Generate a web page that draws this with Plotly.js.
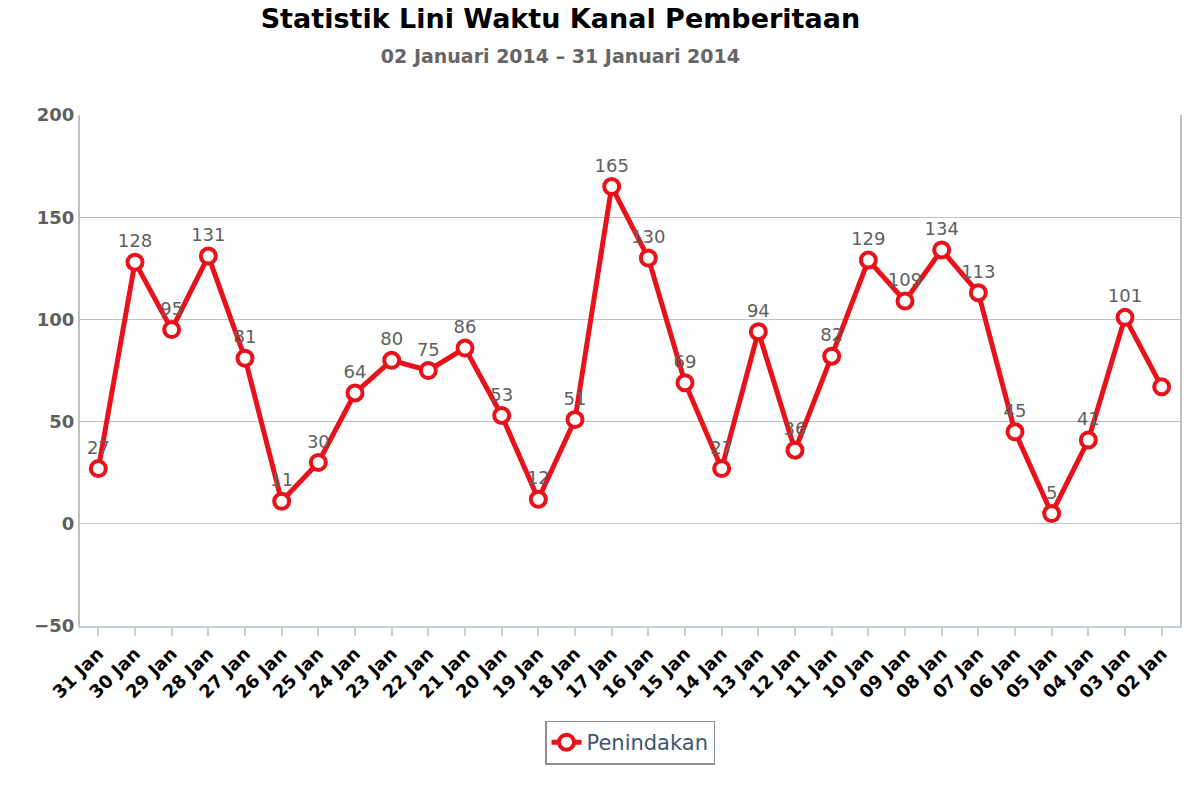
<!DOCTYPE html>
<html>
<head>
<meta charset="utf-8">
<script src="https://cdn.plot.ly/plotly-3.0.1.min.js"></script>
<style>body{margin:0}#chart{width:1200px;height:800px}</style>
</head>
<body>
<div id="chart"></div>
<script>
const dates = ["31 Jan","30 Jan","29 Jan","28 Jan","27 Jan","26 Jan","25 Jan","24 Jan","23 Jan","22 Jan",
  "21 Jan","20 Jan","19 Jan","18 Jan","17 Jan","16 Jan","15 Jan","14 Jan","13 Jan","12 Jan",
  "11 Jan","10 Jan","09 Jan","08 Jan","07 Jan","06 Jan","05 Jan","04 Jan","03 Jan","02 Jan"];
const penindakan = [27,128,95,131,81,11,30,64,80,75,86,53,12,51,165,130,69,27,94,36,82,129,109,134,113,45,5,41,101,67];
// the last point has no label in the source picture
const labels = penindakan.map((v, i) => i === penindakan.length - 1 ? "" : String(v));

const trace = {
  x: dates.map((d, i) => i),
  y: penindakan,
  text: labels,
  name: "Penindakan",
  mode: "lines+markers+text",
  type: "scatter",
  textposition: "top center",
  textfont: {family: "DejaVu Sans", size: 18, color: "#606060"},
  line: {color: "#e8121a", width: 5},
  marker: {size: 15, color: "#ffffff", line: {color: "#e8121a", width: 4}},
  cliponaxis: false
};

const layout = {
  width: 1200, height: 800,
  font: {family: "DejaVu Sans"},
  paper_bgcolor: "#ffffff", plot_bgcolor: "#ffffff",
  margin: {l: 80, r: 20, t: 115, b: 174},
  title: {
    text: "<b>Statistik Lini Waktu Kanal Pemberitaan</b><br><span style='font-size:19px;color:#666'><b>02 Januari 2014 – 31 Januari 2014</b></span>",
    font: {size: 27, color: "#000"}, x: 0.467, xanchor: "center", y: 0.965, yanchor: "top"
  },
  xaxis: {
    range: [-0.5, 29.5],
    tickvals: dates.map((d, i) => i), ticktext: dates.map(d => "<b>" + d + "</b>"),
    tickangle: -45, tickfont: {size: 18, color: "#000"},
    showgrid: false, zeroline: false,
    showline: true, linecolor: "#c0d0e0", linewidth: 2,
    ticks: "outside", ticklen: 8, tickcolor: "#c0d0e0", tickwidth: 2
  },
  yaxis: {
    range: [-50, 200], dtick: 50,
    tickvals: [-50, 0, 50, 100, 150, 200],
    ticktext: ["<b>−50</b>", "<b>0</b>", "<b>50</b>", "<b>100</b>", "<b>150</b>", "<b>200</b>"],
    tickfont: {size: 18, color: "#606060"},
    showgrid: true, gridcolor: "#c0c0c0", gridwidth: 1, zeroline: false,
    showline: true, linecolor: "#c0c0c0", linewidth: 2,
    mirror: true, ticks: "", ticklen: 0
  },
  showlegend: true,
  legend: {
    orientation: "h", x: 0.5, xanchor: "center", y: -0.185, yanchor: "top",
    bordercolor: "#909090", borderwidth: 1.5, bgcolor: "#fff",
    font: {size: 21, color: "#3e576f"}
  }
};

Plotly.newPlot("chart", [trace], layout, {displayModeBar: false});
</script>
</body>
</html>
